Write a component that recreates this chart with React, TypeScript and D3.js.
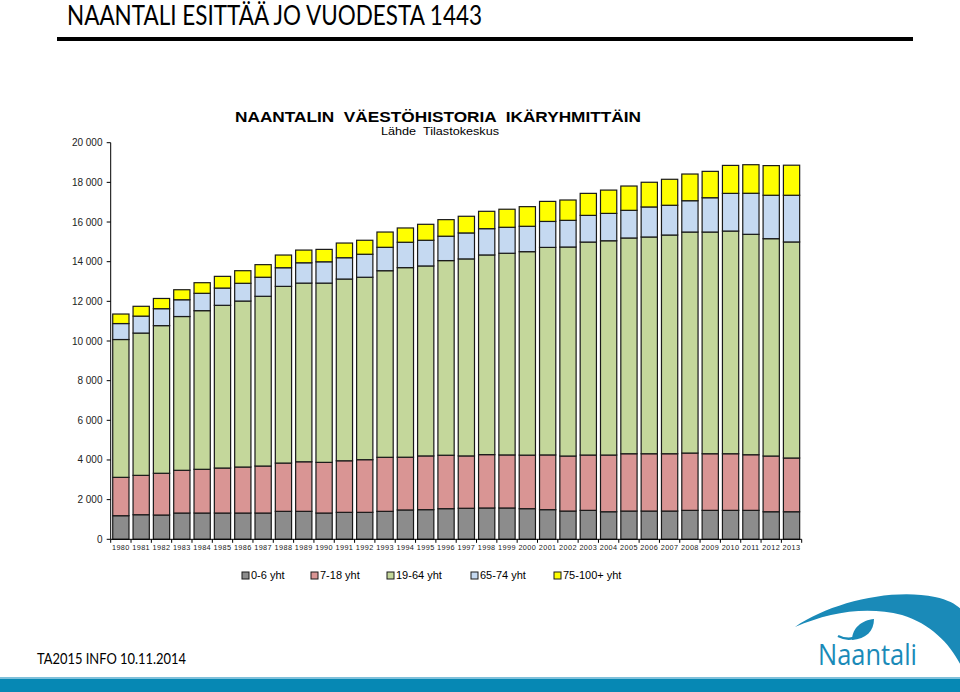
import React from 'react';
import * as d3 from 'd3';

const years = ['1980','1981','1982','1983','1984','1985','1986','1987','1988','1989','1990','1991','1992','1993','1994','1995','1996','1997','1998','1999','2000','2001','2002','2003','2004','2005','2006','2007','2008','2009','2010','2011','2012','2013'];

const age0_6 = [1190,1240,1225,1325,1325,1325,1325,1325,1410,1410,1325,1360,1360,1410,1480,1495,1545,1565,1580,1580,1545,1495,1425,1460,1390,1425,1425,1425,1460,1460,1460,1460,1390,1390];
const age7_18 = [1935,1985,2105,2155,2205,2270,2320,2370,2435,2500,2555,2600,2655,2725,2660,2710,2695,2640,2690,2675,2700,2760,2775,2790,2860,2890,2890,2890,2890,2855,2855,2805,2810,2710];
const age19_64 = [6950,7175,7445,7755,8000,8205,8370,8560,8910,9010,9040,9165,9200,9410,9560,9580,9815,9935,10070,10170,10260,10465,10540,10740,10805,10880,10930,11030,11145,11180,11230,11115,10960,10895];
const age65_74 = [805,855,855,845,875,870,895,960,940,1025,1075,1075,1160,1180,1280,1295,1230,1310,1325,1310,1280,1310,1345,1345,1380,1395,1515,1500,1580,1730,1900,2070,2190,2355];
const age75plus = [480,495,515,505,535,590,635,635,640,640,625,740,705,770,720,805,835,840,875,910,990,1010,1025,1110,1175,1225,1245,1310,1345,1330,1410,1440,1495,1515];

const seriesKeys = ['a0_6', 'a7_18', 'a19_64', 'a65_74', 'a75'];
const seriesLabels = ['0-6 yht', '7-18 yht', '19-64 yht', '65-74 yht', '75-100+ yht'];
const seriesColors = ['#8c8c8c', '#d99594', '#c4d79b', '#c5d9f1', '#ffff00'];
const legendX = [242, 311, 387, 471, 554];

const pageTitle = 'NAANTALI ESITTÄÄ JO VUODESTA 1443';
const chartTitle = 'NAANTALIN  VÄESTÖHISTORIA  IKÄRYHMITTÄIN';
const chartSubtitle = 'Lähde  Tilastokeskus';
const footerText = 'TA2015 INFO 10.11.2014';

const fmt = d3.formatLocale({ decimal: ',', thousands: ' ', grouping: [3], currency: ['', ''] }).format(',d');

export default function App() {
  const x = d3.scaleBand<string>().domain(years).range([110.7, 801.7]).paddingInner(0.2).paddingOuter(0.1);
  const y = d3.scaleLinear().domain([0, 20000]).range([539.3, 142.7]);
  const rows = years.map((yr, i) => ({
    year: yr,
    a0_6: age0_6[i],
    a7_18: age7_18[i],
    a19_64: age19_64[i],
    a65_74: age65_74[i],
    a75: age75plus[i],
  }));
  const stacked = d3.stack<any>().keys(seriesKeys)(rows);
  const [x0, x1] = x.range();
  const step = x.step();
  const bounds = d3.range(years.length + 1).map((i) => x0 + i * step);
  const yTicks = d3.range(0, 20001, 2000);

  return (
    <svg width={960} height={692} style={{ position: 'absolute', left: 0, top: 0, background: '#fff' }}>
      <rect x={0} y={0} width={960} height={692} fill="#fff" />
      {/* page title */}
      <text x={67} y={25} fontFamily="Lato, 'Open Sans', sans-serif" fontSize={26} fill="#000" textLength={415} lengthAdjust="spacingAndGlyphs">{pageTitle}</text>
      <rect x={57} y={37} width={856} height={4} fill="#000" />

      {/* chart title */}
      <text x={438} y={122} textAnchor="middle" style={{ whiteSpace: 'pre' }} fontFamily="Arial, 'Liberation Sans', sans-serif" fontWeight="bold" fontSize={14.5} fill="#000" textLength={406} lengthAdjust="spacingAndGlyphs">{chartTitle}</text>
      <text x={440} y={135} textAnchor="middle" style={{ whiteSpace: 'pre' }} fontFamily="Arial, 'Liberation Sans', sans-serif" fontSize={11.5} fill="#000" textLength={118} lengthAdjust="spacingAndGlyphs">{chartSubtitle}</text>

      {/* bars */}
      {stacked.map((s, si) => (
        <g key={seriesKeys[si]}>
          {s.map((d: any) => (
            <rect
              key={d.data.year}
              x={x(d.data.year)}
              y={y(d[1])}
              width={x.bandwidth()}
              height={y(d[0]) - y(d[1])}
              fill={seriesColors[si]}
              stroke="#1a1a1a"
              strokeWidth={1.2}
            />
          ))}
        </g>
      ))}

      {/* y axis */}
      <line x1={x0} x2={x0} y1={y(20000)} y2={y(0)} stroke="#000" strokeWidth={1} />
      {yTicks.map((t) => (
        <g key={t}>
          <line x1={x0 - 4} x2={x0} y1={y(t)} y2={y(t)} stroke="#000" strokeWidth={1} />
          <text x={102.5} y={y(t)} dy="0.35em" textAnchor="end" fontFamily="Arial, 'Liberation Sans', sans-serif" fontSize={10} fill="#222">{fmt(t)}</text>
        </g>
      ))}

      {/* x axis */}
      <line x1={x0} x2={x1} y1={y(0)} y2={y(0)} stroke="#000" strokeWidth={1} />
      {bounds.map((bx, i) => (
        <line key={i} x1={bx} x2={bx} y1={y(0)} y2={y(0) + 3.5} stroke="#000" strokeWidth={1} />
      ))}
      {years.map((yr) => (
        <text key={yr} x={(x(yr) as number) + x.bandwidth() / 2} y={549.5} textAnchor="middle" fontFamily="Arial, 'Liberation Sans', sans-serif" fontSize={7.3} fill="#222" letterSpacing={0.4}>{yr}</text>
      ))}

      {/* legend */}
      {seriesLabels.map((lab, i) => (
        <g key={lab}>
          <rect x={legendX[i]} y={572} width={7} height={7} fill={seriesColors[i]} stroke="#1a1a1a" strokeWidth={1} />
          <text x={legendX[i] + 9} y={575.5} dy="0.35em" fontFamily="Arial, 'Liberation Sans', sans-serif" fontSize={11} fill="#000">{lab}</text>
        </g>
      ))}

      {/* footer */}
      <text x={37} y={664} fontFamily="Lato, 'Open Sans', sans-serif" fontSize={15} fill="#000" textLength={149} lengthAdjust="spacingAndGlyphs">{footerText}</text>

      {/* logo swoosh */}
      <path d="M795,627 C830,603 890,588 935,597 C950,600 958,606 962,610 L962,668 C952,646 932,624 902,615 C866,606 830,612 795,627 Z" fill="#1a8ab8" />
      {/* leaf */}
      <path d="M852,640 C852,628 862,620 874,619 C874,631 866,639 852,640 Z" fill="#1a8ab8" />
      <path d="M838,636 C846,640 856,640 864,632" fill="none" stroke="#1a8ab8" strokeWidth={2.5} />
      <text x={818} y={665} fontFamily="'Open Sans', 'Noto Sans', sans-serif" fontSize={29} fill="#1a8ab8" textLength={99} lengthAdjust="spacingAndGlyphs">Naantali</text>

      {/* bottom band */}
      <rect x={0} y={677} width={960} height={2} fill="#7fc0da" />
      <rect x={0} y={679} width={960} height={13} fill="#0688b4" />
    </svg>
  );
}
